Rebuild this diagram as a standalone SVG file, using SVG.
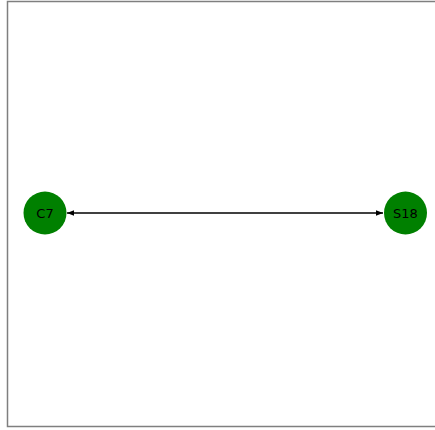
<svg xmlns="http://www.w3.org/2000/svg" width="435" height="430" viewBox="0 0 435 430">
  <style>
    .node circle { fill: #008000; }
    .node text { font-family: "DejaVu Sans", sans-serif; font-size: 13px; fill: #000; text-anchor: middle; dominant-baseline: central; }
    .edge { stroke: #000; stroke-width: 1.5; fill: none; }
  </style>
  <defs>
    <marker id="head" viewBox="0 0 10 10" refX="10" refY="5" markerWidth="7" markerHeight="7" markerUnits="userSpaceOnUse" orient="auto-start-reverse">
      <path d="M0,1 L10,5 L0,9 z" fill="#000"/>
    </marker>
  </defs>
  <rect width="435" height="430" fill="#fff"/>
  <!-- axes frame -->
  <rect x="7.5" y="1.5" width="440" height="425" fill="none" stroke="#7f7f7f" stroke-width="1.5"/>
  <g id="connectors">
    <line class="edge" x1="67" y1="213" x2="383" y2="213" marker-start="url(#head)" marker-end="url(#head)"/>
  </g>
  <g id="C7" class="node">
    <circle cx="45" cy="213" r="21.5"/>
    <text x="45" y="213">C7</text>
  </g>
  <g id="S18" class="node">
    <circle cx="405.5" cy="213" r="21.5"/>
    <text x="405.5" y="213">S18</text>
  </g>
</svg>
